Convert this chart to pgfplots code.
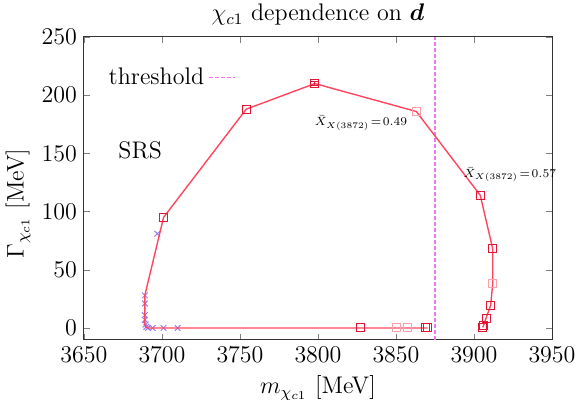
\documentclass[border=0pt]{standalone}
\usepackage{bm}
\usepackage{pgfplots}
\pgfplotsset{compat=1.18}
\definecolor{linered}{RGB}{255,70,95}
\definecolor{darksq}{RGB}{228,20,50}
\definecolor{lightsq}{RGB}{255,160,170}
\definecolor{crossblue}{RGB}{150,128,240}
\definecolor{threshcol}{RGB}{240,120,240}

\begin{document}
\begin{tikzpicture}
\begin{axis}[
  scale only axis,
  width=234pt, height=151.3pt,
  xmin=3650, xmax=3950, ymin=-10, ymax=250,
  xtick={3650,3700,...,3950}, ytick={0,50,...,250},
  scaled x ticks=false,
  clip mode=individual,
  xticklabel style={/pgf/number format/1000 sep={}},
  tick align=inside, major tick length=3pt,
  tick label style={font=\large},
  label style={font=\large},
  axis line style={black!80, line width=0.5pt},
  title={$\chi_{c1}$ dependence on $\bm{d}$},
  title style={font=\large, at={(0.5,1)}, anchor=base, yshift=2pt},
  xlabel={$m_{\chi_{c1}}$ [MeV]},
  ylabel={$\Gamma_{\chi_{c1}}$ [MeV]},
  ylabel style={at={(axis description cs:-0.141,0.45)}, anchor=center},
  legend plot pos=right,
  legend image code/.code={\draw[#1] (0pt,0pt) -- (13pt,0pt);},
  legend style={draw=none, fill=none, at={(axis cs:3663,215)}, anchor=west,
    inner sep=0pt, font=\large},
]
% threshold
\addplot[threshcol, line width=0.6pt, dash pattern=on 2pt off 1pt] coordinates {(3875,-10) (3875,250)};
\addlegendentry{threshold}

% blue crosses
\addplot[forget plot, only marks, mark=x, mark size=2pt, crossblue, line width=0.5pt] coordinates {
  (3697,81) (3689,28) (3689,21) (3689,11) (3689,7) (3689.5,3)
  (3690,1) (3691,0) (3694,0) (3701,0) (3710,0)
};

% trajectory line
\addplot[forget plot, linered, line width=0.7pt] coordinates {
  (3870.3,0) (3868.6,0) (3857.6,0) (3850.5,0) (3827,0) (3710,0) (3701.5,0)
  (3694,0) (3690.6,0) (3689.5,1) (3689,3) (3689,7) (3689,11) (3689,21)
  (3689,28) (3701,95) (3754,188) (3798,210) (3863,186) (3904,114)
  (3912,68) (3912,38) (3910.7,19.5) (3907.7,8.3) (3906,1.8) (3905.5,0.5)
};

% squares
\addplot[forget plot, only marks, mark=square, mark size=2pt, lightsq, line width=0.5pt] coordinates {
  (3857.6,0) (3850.5,0) (3863,186) (3912,38)
};
\addplot[forget plot, only marks, mark=square, mark size=2pt, darksq, line width=0.5pt] coordinates {
  (3870.3,0) (3868.6,0) (3827,0) (3701,95) (3754,188) (3904,114)
  (3912,68) (3910.7,19.5) (3907.7,8.3) (3906,1.8) (3905.5,0.5)
};
\addplot[forget plot, only marks, mark=square, mark size=2pt, darksq, line width=0.5pt,
  error bars/.cd, y dir=both, y explicit] coordinates {(3798,210) +- (0,2)};

\node[font=\large] at (axis cs:3686,153) {SRS};
\node at (axis cs:3827.6,176) {\scalebox{0.85}{\scriptsize$\bar{X}_{X(3872)}\!=\!0.49$}};
\node at (axis cs:3923,132) {\scalebox{0.85}{\scriptsize$\bar{X}_{X(3872)}\!=\!0.57$}};
\end{axis}
\pgfresetboundingbox
\path[use as bounding box] (-42pt,-30.2pt) rectangle (246.5pt,169.8pt);
\end{tikzpicture}
\end{document}
